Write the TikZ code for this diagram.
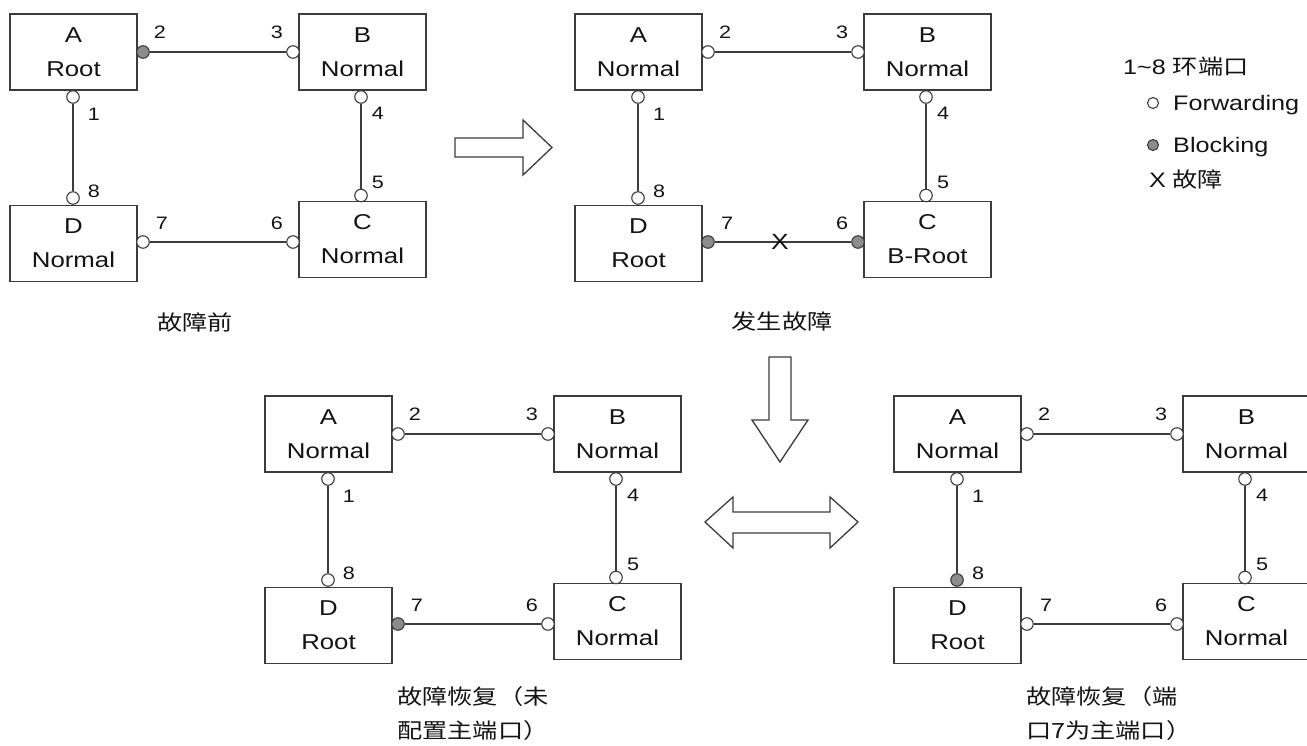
\documentclass[tikz,border=0pt]{standalone}
\usepackage{fontspec}
\setmainfont{Liberation Sans}[FakeStretch=1.2]
\newfontfamily\cjk{Noto Sans CJK SC}[FakeStretch=1.2]
\usetikzlibrary{calc}
\definecolor{linec}{RGB}{60,60,60}
\definecolor{blockc}{RGB}{140,140,140}
\definecolor{textc}{RGB}{20,20,20}
\tikzset{
  ringbox/.style={draw=linec, line width=1.3pt, minimum width=127pt, minimum height=76pt,
    inner sep=0pt, align=center, text=textc, font=\fontsize{21.5}{34}\selectfont},
  fwdport/.style={circle, draw=linec, line width=1.1pt, fill=white, minimum size=12.5pt, inner sep=0pt},
  blkport/.style={fwdport, fill=blockc},
  ringlink/.style={draw=linec, line width=1.3pt},
  numtxt/.style={font=\fontsize{18}{18}\selectfont, inner sep=0pt, text=textc},
  captxt/.style={font=\cjk\fontsize{21}{34}\selectfont, inner sep=0pt, align=left, text=textc},
  legtxt/.style={font=\fontsize{21}{21}\selectfont, inner sep=0pt, anchor=base west, text=textc},
  hollowarrow/.style={draw=linec, line width=1.3pt, fill=white, line join=miter},
}
% #1 dx, #2 dy, #3 A, #4 B, #5 C, #6 D, #7 port style overrides, #8 prefix
\newcommand\ringdiag[8]{%
\begin{scope}[shift={(#1,#2)}, name prefix=#8-,
   port1/.style={fwdport}, port2/.style={fwdport}, port3/.style={fwdport}, port4/.style={fwdport},
   port5/.style={fwdport}, port6/.style={fwdport}, port7/.style={fwdport}, port8/.style={fwdport}, #7]
  \node[ringbox] (A) at (73.5,52) {A\\#3};
  \node[ringbox] (B) at (362.5,52) {B\\#4};
  \node[ringbox] (D) at (73.5,243.5) {D\\#6};
  \node[ringbox] (C) at (362.5,239.5) {C\\#5};
  \node[port2] (p2) at (143,52) {};
  \node[port3] (p3) at (293,52) {};
  \node[port1] (p1) at (73,97) {};
  \node[port8] (p8) at (73,198) {};
  \node[port4] (p4) at (361,97) {};
  \node[port5] (p5) at (361,195.5) {};
  \node[port7] (p7) at (143,242) {};
  \node[port6] (p6) at (293,242) {};
  \draw[ringlink] (p2) -- (p3);
  \draw[ringlink] (p1) -- (p8);
  \draw[ringlink] (p4) -- (p5);
  \draw[ringlink] (p7) -- (p6);
  \node[numtxt] (n2) at (160,32) {2};
  \node[numtxt] (n3) at (277,32) {3};
  \node[numtxt] (n1) at (94,114) {1};
  \node[numtxt] (n4) at (378,113) {4};
  \node[numtxt] (n8) at (94,191) {8};
  \node[numtxt] (n5) at (378,182) {5};
  \node[numtxt] (n7) at (162,223) {7};
  \node[numtxt] (n6) at (277,223) {6};
\end{scope}}
\begin{document}
\begin{tikzpicture}[x=1pt,y=-1pt]
\useasboundingbox (0,0) rectangle (1307,746);
\clip (0,0) rectangle (1307,746);
\fill[white] (0,0) rectangle (1307,746);

\ringdiag{0}{0}{Root}{Normal}{Normal}{Normal}{port2/.style={blkport}}{d1}
\ringdiag{565}{0}{Normal}{Normal}{B-Root}{Root}{port7/.style={blkport},port6/.style={blkport}}{d2}
\ringdiag{255}{382}{Normal}{Normal}{Normal}{Root}{port7/.style={blkport}}{d3}
\ringdiag{884}{382}{Normal}{Normal}{Normal}{Root}{port8/.style={blkport}}{d4}

% fault mark
\node[font=\fontsize{22}{22}\selectfont, inner sep=0pt, text=textc] (fault) at (780,242) {X};

% captions
\node[captxt] (c1) at (195,322) {故障前};
\node[captxt] (c2) at (782,322) {发生故障};
\node[captxt, anchor=west] (c3) at (397,714) {故障恢复（未\\配置主端口）};
\node[captxt, anchor=west] (c4) at (1026,714) {故障恢复（端\\口7为主端口）};

% legend
\node[legtxt] (l1) at (1123,74.5) {1\textasciitilde 8 {\cjk 环端口}};
\node[fwdport, minimum size=11pt] (lf) at (1153,103) {};
\node[legtxt] (l2) at (1173,110.5) {Forwarding};
\node[blkport, minimum size=11pt] (lb) at (1153,145) {};
\node[legtxt] (l3) at (1173,152.5) {Blocking};
\node[legtxt] (lx) at (1149,187.5) {X};
\node[legtxt] (l4) at (1172,187.5) {\cjk 故障};

% hollow arrows
\draw[hollowarrow] (455,138) -- (523,138) -- (523,120) -- (552,147.5) -- (523,175) -- (523,157) -- (455,157) -- cycle;
\draw[hollowarrow] (769,357) -- (791,357) -- (791,420) -- (808,420) -- (780,462) -- (752,420) -- (769,420) -- cycle;
\draw[hollowarrow] (705,522) -- (733,497) -- (733,512) -- (830,512) -- (830,497) -- (858,522) -- (830,548) -- (830,533) -- (733,533) -- (733,548) -- cycle;
\end{tikzpicture}
\end{document}
